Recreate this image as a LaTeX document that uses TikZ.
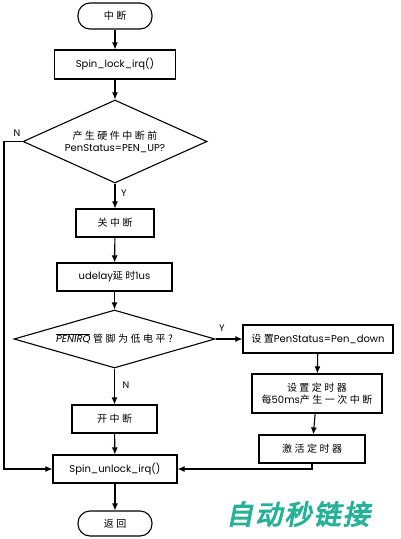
\documentclass[tikz,border=0pt]{standalone}
\usepackage{fontspec}
\setmainfont{Poppins}
\newfontfamily\cjk{Noto Sans CJK SC}[LetterSpace=25]
\newfontfamily\wmfont{Noto Sans CJK SC}[FakeBold=4, FakeSlant=0.2, LetterSpace=8]
\usetikzlibrary{shapes.geometric, arrows.meta}
\definecolor{wmteal}{RGB}{38,178,152}

\begin{document}
\begin{tikzpicture}[x=1pt, y=-1pt, line width=1.1pt, >={Latex[length=7pt, width=6pt]}, font=\fontsize{10}{12}\selectfont]
\tikzstyle{box}=[rectangle, draw=black, minimum height=28pt, inner sep=2pt, align=center]
\tikzstyle{terminal}=[box, rounded corners=12pt, minimum width=74pt, minimum height=26pt]
\tikzstyle{decision}=[diamond, draw=black, inner sep=0pt, align=center]
\tikzstyle{flow}=[->, black]
\tikzstyle{yn}=[font=\fontsize{9.5}{9.5}\selectfont, inner sep=0pt]

\useasboundingbox (0,0) rectangle (400,539);

% Draw the main column
\node[terminal] (start) at (115,16) {\cjk 中断};
\node[box, minimum width=121pt, minimum height=29pt] (lock) at (115,64.5) {Spin\_lock\_irq()};
\node[decision, minimum width=184pt, minimum height=83pt, aspect=2.2] (penup) at (115,141.5)
    {{\cjk 产生硬件中断前}\\PenStatus=PEN\_UP?};
\node[box, minimum width=78pt] (close) at (115,223) {\cjk 关中断};
\node[box, minimum width=115pt] (delay) at (114.5,277) {udelay{\cjk 延时}1us};
\node[decision, minimum width=201pt, minimum height=58pt, aspect=3.4] (irq) at (114.5,339)
    {$\overline{\mbox{\itshape PENIRQ}}$ {\cjk 管脚为低电平?}};
\node[box, minimum width=85pt] (open) at (114.5,419) {\cjk 开中断};
\node[box, minimum width=124pt] (unlock) at (115,469) {Spin\_unlock\_irq()};
\node[terminal, minimum height=25pt] (ret) at (115,523.5) {\cjk 返回};

% Draw the right column
\node[box, minimum width=150pt] (setpen) at (318,339) {{\cjk 设置}PenStatus=Pen\_down};
\node[box, minimum width=130pt, minimum height=39pt] (settimer) at (317,393.5)
    {{\cjk 设置定时器}\\{\cjk 每}50ms{\cjk 产生一次中断}};
\node[box, minimum width=106pt] (activate) at (312,449) {\cjk 激活定时器};

% Connect them
\draw[flow] (start) -- (lock);
\draw[flow] (lock) -- (penup);
\draw[flow] (penup) -- (close);
\draw[flow] (close) -- (delay);
\draw[flow] (delay) -- (irq);
\draw[flow] (irq) -- (open);
\draw[flow] (open) -- (unlock);
\draw[flow] (unlock) -- (ret);
\draw[flow] (irq) -- (setpen);
\draw[flow] (setpen) -- (settimer);
\draw[flow] (settimer) -- (activate);
\draw[flow] (activate.south) |- (unlock.east);
\draw[flow] (penup.west) -| (4,250) |- (unlock.west);

% Y / N labels
\node[yn] (n1) at (17,133) {N};
\node[yn] (y1) at (124,193) {Y};
\node[yn] (y2) at (222,328) {Y};
\node[yn] (n2) at (126,385) {N};

\node[wmteal, font=\wmfont\fontsize{27}{27}\selectfont, inner sep=0pt] (mark) at (298,514) {自动秒链接};
\end{tikzpicture}
\end{document}
